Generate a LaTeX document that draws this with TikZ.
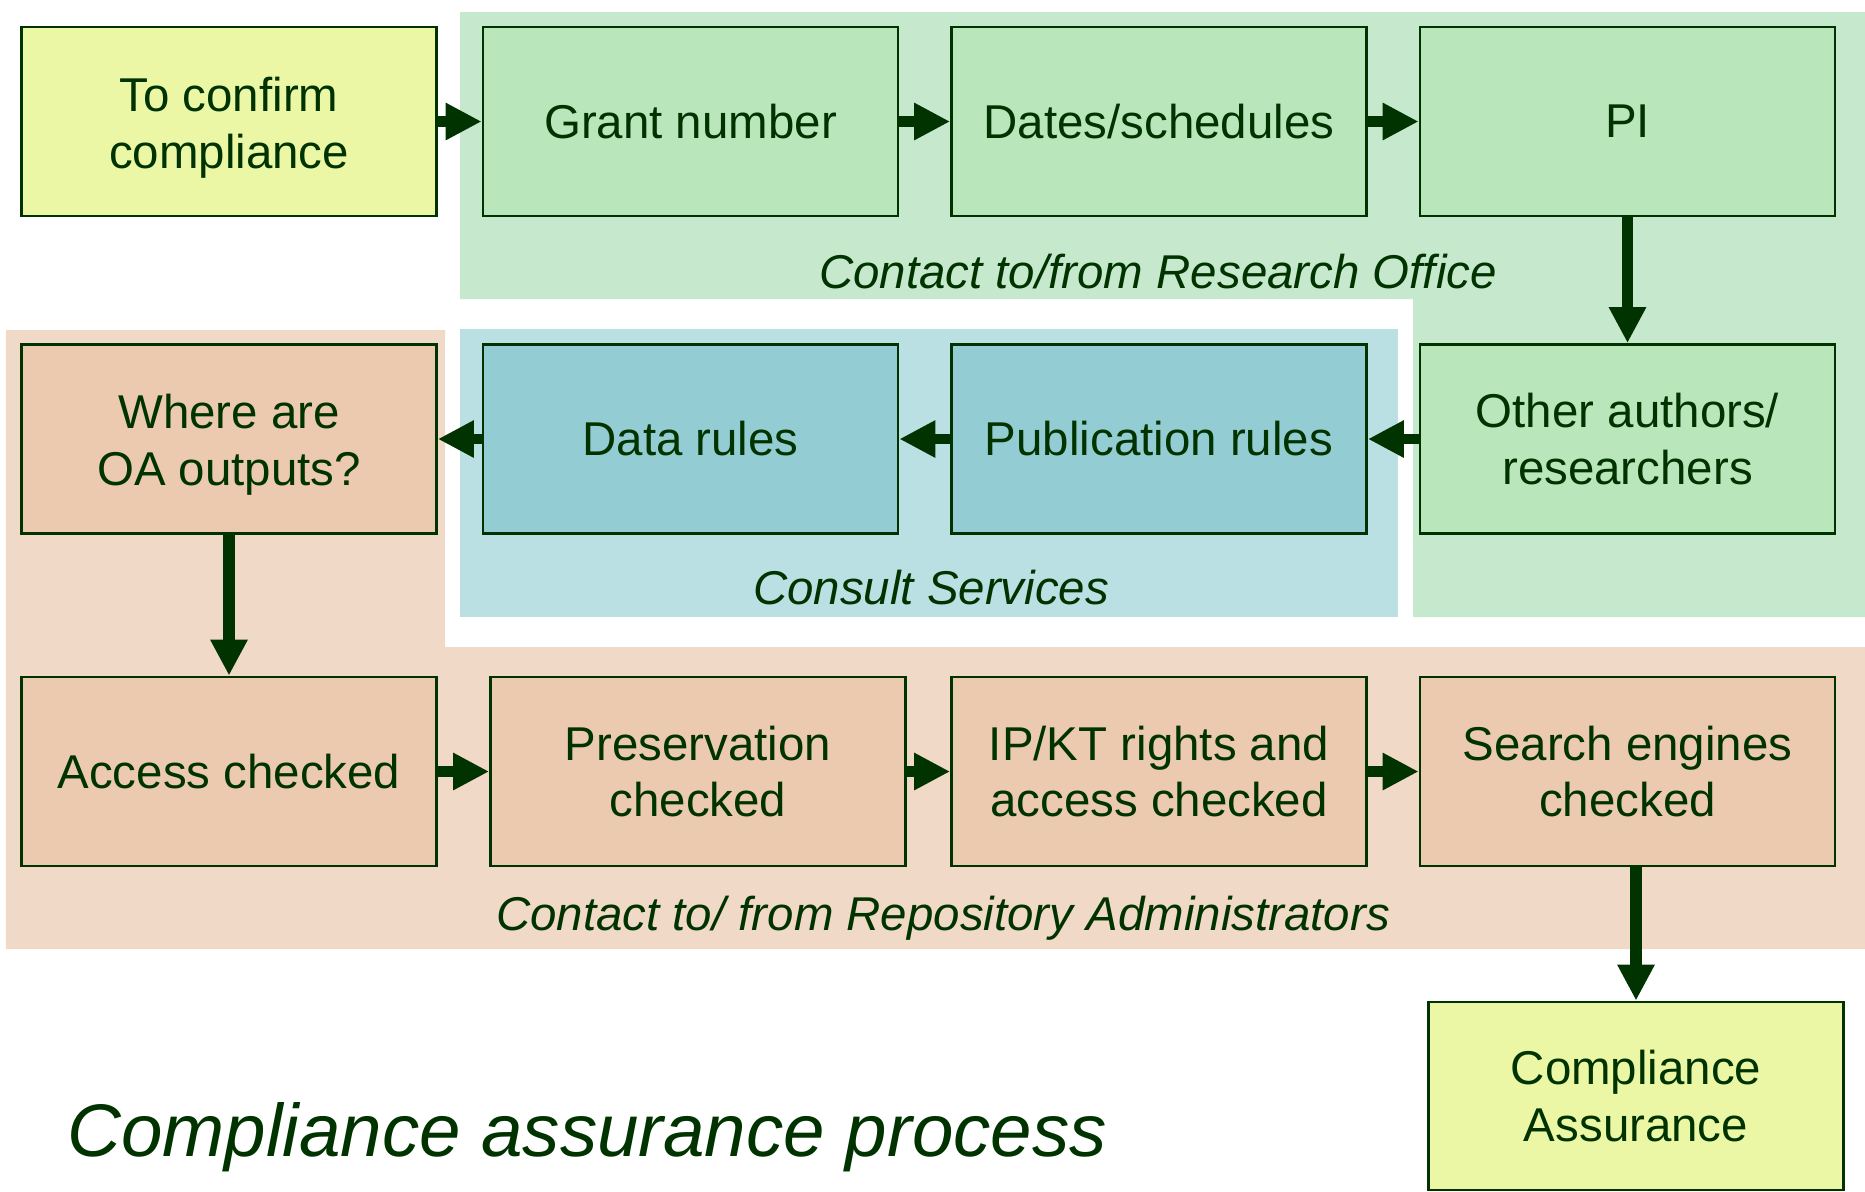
\documentclass[tikz,border=0pt]{standalone}
\usepackage{fontspec}
\setmainfont{Liberation Sans}
\usetikzlibrary{arrows.meta}

\definecolor{dkgreen}{RGB}{0,51,0}
\definecolor{yelbox}{RGB}{235,247,165}
\definecolor{grnbox}{RGB}{185,230,186}
\definecolor{grnbg}{RGB}{198,232,204}
\definecolor{bluebox}{RGB}{147,204,210}
\definecolor{bluebg}{RGB}{187,224,227}
\definecolor{orgbox}{RGB}{236,202,176}
\definecolor{orgbg}{RGB}{241,217,199}

\begin{document}
\begin{tikzpicture}[>={Triangle[width=3.5mm,length=3.6mm]},
  box/.style={draw=dkgreen, line width=0.8pt, minimum width=4.15cm, minimum height=1.89cm,
    align=center, text=dkgreen, font=\fontsize{13.5}{16.2}\selectfont},
  lowtext/.style={text height=29.4pt},
  flow/.style={->, draw=dkgreen, fill=dkgreen, line width=3pt},
  area/.style={text=dkgreen, font=\fontsize{13.5}{16.2}\selectfont\itshape}]
\useasboundingbox (0,0) rectangle (18.65,-11.91);

% shaded areas
\fill[grnbg] (4.60,-0.12) -- (18.65,-0.12) -- (18.65,-6.17) -- (14.13,-6.17)
  -- (14.13,-2.99) -- (4.60,-2.99) -- cycle;
\fill[bluebg] (4.60,-3.29) rectangle (13.975,-6.17);
\fill[orgbg] (0.06,-3.30) -- (4.45,-3.30) -- (4.45,-6.47) -- (18.65,-6.47)
  -- (18.65,-9.49) -- (0.06,-9.49) -- cycle;

% first row
\node[box, lowtext, fill=yelbox] (conf) at (2.29,-1.215) {To confirm\\compliance};
\node[box, fill=grnbox] (grant) at (6.905,-1.215) {Grant number};
\node[box, fill=grnbox] (dates) at (11.59,-1.215) {Dates/schedules};
\node[box, fill=grnbox] (pi) at (16.275,-1.215) {PI};

% second row
\node[box, lowtext, fill=orgbox] (where) at (2.29,-4.39) {Where are\\OA outputs?};
\node[box, fill=bluebox] (data) at (6.905,-4.39) {Data rules};
\node[box, fill=bluebox] (pub) at (11.59,-4.39) {Publication rules};
\node[box, fill=grnbox] (other) at (16.275,-4.39) {Other authors/\\researchers};

% third row
\node[box, fill=orgbox] (access) at (2.29,-7.715) {Access checked};
\node[box, fill=orgbox] (pres) at (6.98,-7.715) {Preservation\\checked};
\node[box, fill=orgbox] (ip) at (11.59,-7.715) {IP/KT rights and\\access checked};
\node[box, fill=orgbox] (search) at (16.275,-7.715) {Search engines\\checked};

\node[box, fill=yelbox, minimum height=1.88cm] (ca) at (16.36,-10.96) {Compliance\\Assurance};

% area labels
\node[area] (lro) at (11.58,-2.72) {Contact to/from Research Office};
\node[area] (lcs) at (9.31,-5.88) {Consult Services};
\node[area] (lra) at (9.43,-9.18) {Contact to/ from Repository Administrators};
\node[anchor=base west, text=dkgreen, font=\fontsize{21.2}{25}\selectfont\itshape]
  (title) at (0.55,-11.565) {Compliance assurance process};

% arrows
\draw[flow] (conf) -- (grant);
\draw[flow] (grant) -- (dates);
\draw[flow] (dates) -- (pi);
\draw[flow, line width=3.4pt] (pi) -- (other);
\draw[flow] (other) -- (pub);
\draw[flow] (pub) -- (data);
\draw[flow] (data) -- (where);
\draw[flow, line width=3.4pt] (where) -- (access);
\draw[flow] (access) -- (pres);
\draw[flow] (pres) -- (ip);
\draw[flow] (ip) -- (search);
\draw[flow, line width=3.4pt] (search.south -| ca.north) -- (ca.north);

\end{tikzpicture}
\end{document}
